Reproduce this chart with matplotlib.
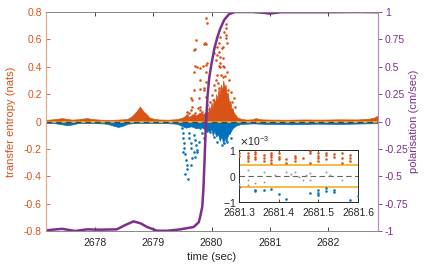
import matplotlib
matplotlib.use('Agg')
import matplotlib.pyplot as plt
from matplotlib.ticker import FuncFormatter, ScalarFormatter

plt.rcParams['font.family'] = ['Liberation Sans', 'DejaVu Sans']
plt.rcParams['font.size'] = 7.5
plt.rcParams['axes.unicode_minus'] = False

#! colours (matlab default order)
ORANGE = '#D95319'
BLUE   = '#0072BD'
PURPLE = '#7E2F8E'
YELLOW = '#EDB120'
GREY   = '#262626'

#! polarisation (right axis)
pol_t = [2677.155, 2677.43, 2677.655, 2677.86, 2678.09, 2678.37, 2678.52, 2678.66, 2678.78,
         2678.89, 2679.06, 2679.24, 2679.465, 2679.695, 2679.78, 2679.80, 2679.84, 2679.86,
         2679.88, 2679.90, 2679.93, 2679.96, 2680.00, 2680.05, 2680.10, 2680.15, 2680.22,
         2680.30, 2680.40, 2680.70, 2680.90, 2681.00, 2681.10, 2681.20, 2682.00, 2682.50, 2682.86]
pol_v = [-0.994, -0.98, -1.0, -0.985, -0.988, -0.985, -0.945, -0.912, -0.93,
         -0.963, -0.997, -0.998, -0.985, -0.963, -0.92, -0.88, -0.78, -0.62,
         -0.35, -0.05, 0.22, 0.40, 0.53, 0.67, 0.77, 0.85, 0.93,
         0.98, 1.0, 1.0, 0.993, 0.985, 0.993, 0.998, 0.998, 1.0, 0.998]

#! dense transfer entropy band (upper / lower envelope)
pos_band = [(2677.15, 0.012), (2677.25, 0.015), (2677.35, 0.02), (2677.43, 0.025), (2677.5, 0.02),
            (2677.6, 0.014), (2677.7, 0.016), (2677.8, 0.022), (2677.86, 0.025), (2677.95, 0.018),
            (2678.1, 0.013), (2678.25, 0.012), (2678.4, 0.014), (2678.55, 0.018), (2678.62, 0.035),
            (2678.68, 0.06), (2678.73, 0.085), (2678.77, 0.11), (2678.8, 0.09), (2678.84, 0.07),
            (2678.88, 0.055), (2678.93, 0.03), (2679.0, 0.02), (2679.1, 0.015), (2679.25, 0.013),
            (2679.4, 0.017), (2679.5, 0.028), (2679.56, 0.045), (2679.62, 0.035), (2679.68, 0.055),
            (2679.74, 0.045), (2679.8, 0.065), (2679.86, 0.055), (2679.9, 0.07),
            (2679.92, 0.08), (2679.94, 0.06), (2679.96, 0.11), (2679.98, 0.08), (2680.0, 0.14),
            (2680.02, 0.1), (2680.04, 0.17), (2680.06, 0.13), (2680.08, 0.2), (2680.1, 0.16),
            (2680.12, 0.24), (2680.14, 0.2), (2680.16, 0.27), (2680.18, 0.22), (2680.2, 0.3),
            (2680.22, 0.25), (2680.24, 0.27), (2680.26, 0.2), (2680.28, 0.21), (2680.3, 0.14),
            (2680.32, 0.15), (2680.34, 0.09), (2680.36, 0.1), (2680.38, 0.06), (2680.41, 0.05),
            (2680.44, 0.03), (2680.47, 0.025),
            (2680.52, 0.018), (2680.6, 0.014), (2680.7, 0.016), (2680.76, 0.025), (2680.84, 0.016),
            (2681.0, 0.014), (2681.3, 0.013), (2681.6, 0.015), (2681.9, 0.014), (2682.2, 0.016),
            (2682.5, 0.015), (2682.7, 0.02), (2682.8, 0.03), (2682.86, 0.045)]
neg_band = [(2677.15, -0.01), (2677.3, -0.012), (2677.42, -0.02), (2677.52, -0.027), (2677.6, -0.022),
            (2677.7, -0.012), (2677.85, -0.01), (2678.0, -0.012), (2678.15, -0.014), (2678.25, -0.022),
            (2678.33, -0.033), (2678.4, -0.04), (2678.48, -0.03), (2678.56, -0.016), (2678.7, -0.01),
            (2679.0, -0.01), (2679.2, -0.011), (2679.4, -0.016), (2679.48, -0.03), (2679.56, -0.045),
            (2679.65, -0.035), (2679.74, -0.05), (2679.82, -0.04), (2679.9, -0.06), (2679.96, -0.07),
            (2680.0, -0.06), (2680.02, -0.1), (2680.05, -0.07), (2680.08, -0.11), (2680.11, -0.09),
            (2680.14, -0.14), (2680.17, -0.11), (2680.2, -0.155), (2680.23, -0.12), (2680.26, -0.13),
            (2680.29, -0.09), (2680.32, -0.08), (2680.36, -0.05), (2680.42, -0.03),
            (2680.5, -0.018), (2680.7, -0.014), (2681.0, -0.018), (2681.4, -0.02), (2681.8, -0.016),
            (2682.2, -0.018), (2682.6, -0.014), (2682.86, -0.012)]

#! scattered transfer entropy points
pos_pts = [(2679.91, 0.754), (2679.93, 0.72), (2680.25, 0.71), (2680.24, 0.68), (2679.74, 0.595),
           (2680.21, 0.656), (2679.87, 0.564), (2679.91, 0.564), (2679.72, 0.527), (2680.25, 0.632),
           (2680.24, 0.608), (2680.15, 0.62), (2680.27, 0.571), (2680.13, 0.571), (2680.10, 0.547),
           (2680.12, 0.51), (2680.18, 0.535), (2680.04, 0.498), (2680.10, 0.486), (2680.15, 0.473),
           (2680.19, 0.462), (2679.93, 0.425), (2679.90, 0.413), (2680.08, 0.449), (2680.15, 0.425),
           (2680.19, 0.405), (2679.72, 0.405), (2679.86, 0.405), (2680.12, 0.405), (2679.88, 0.57),
           (2679.69, 0.52), (2679.80, 0.39), (2679.90, 0.29), (2679.80, 0.235), (2679.87, 0.23),
           (2679.69, 0.23), (2679.67, 0.157), (2679.64, 0.084), (2679.81, 0.084), (2679.58, 0.047),
           (2680.20, 0.547), (2680.22, 0.40), (2680.20, 0.327), (2680.08, 0.303), (2680.13, 0.243),
           (2680.22, 0.254), (2680.28, 0.23), (2680.16, 0.181), (2680.25, 0.145), (2680.31, 0.12),
           (2680.33, 0.084), (2680.36, 0.06), (2679.69, 0.364), (2679.75, 0.40), (2679.81, 0.303),
           (2679.90, 0.364), (2679.87, 0.243), (2679.64, 0.17), (2679.78, 0.17), (2679.90, 0.18),
           (2679.67, 0.108), (2679.81, 0.108), (2679.93, 0.12), (2679.58, 0.072), (2679.72, 0.06),
           (2679.84, 0.072), (2680.15, 0.40), (2680.27, 0.364), (2680.10, 0.34), (2680.30, 0.303),
           (2680.04, 0.267), (2680.33, 0.218), (2680.38, 0.17), (2680.41, 0.108), (2680.01, 0.194),
           (2680.06, 0.23), (2680.17, 0.34), (2680.23, 0.33), (2680.11, 0.28), (2680.02, 0.16),
           (2679.98, 0.14), (2680.35, 0.14), (2679.95, 0.09), (2679.76, 0.10), (2679.62, 0.06)]
neg_pts = [(2679.49, -0.05), (2679.51, -0.086), (2679.51, -0.123), (2679.52, -0.16), (2679.53, -0.196),
           (2679.55, -0.24), (2679.56, -0.281), (2679.57, -0.318), (2679.61, -0.086), (2679.62, -0.123),
           (2679.64, -0.16), (2679.65, -0.196), (2679.69, -0.099), (2679.71, -0.135), (2679.73, -0.172),
           (2679.75, -0.208), (2679.81, -0.05), (2679.84, -0.086), (2679.87, -0.123), (2679.59, -0.42),
           (2679.58, -0.345), (2679.55, -0.38), (2679.64, -0.32), (2679.67, -0.27), (2679.72, -0.26),
           (2679.75, -0.223), (2679.79, -0.15), (2679.51, -0.223), (2679.70, -0.223), (2680.15, -0.099),
           (2680.24, -0.135), (2680.30, -0.086), (2680.33, -0.123), (2680.10, -0.147), (2680.21, -0.16),
           (2680.05, -0.11), (2679.98, -0.08), (2680.27, -0.15), (2680.18, -0.175), (2679.92, -0.07)]

#! inset: zoom on 2681.3 - 2681.6 (values x1e-3)
ins_pos = [(2681.300, 0.87), (2681.300, 0.77), (2681.323, 0.87), (2681.323, 0.77), (2681.323, 0.68),
           (2681.323, 0.59), (2681.341, 0.94), (2681.341, 0.85), (2681.341, 0.74), (2681.341, 0.65),
           (2681.362, 0.81), (2681.362, 0.68), (2681.362, 0.59), (2681.380, 0.90), (2681.380, 0.81),
           (2681.380, 0.72), (2681.380, 0.61), (2681.380, 0.51), (2681.400, 0.87), (2681.400, 0.74),
           (2681.400, 0.64), (2681.419, 0.64), (2681.419, 0.51), (2681.440, 0.77), (2681.440, 0.68),
           (2681.440, 0.59), (2681.461, 0.68), (2681.480, 0.97), (2681.480, 0.87), (2681.480, 0.51),
           (2681.500, 0.87), (2681.500, 0.77), (2681.500, 0.68), (2681.500, 0.59), (2681.520, 0.90),
           (2681.520, 0.81), (2681.520, 0.64), (2681.540, 0.85), (2681.540, 0.74), (2681.560, 0.87),
           (2681.560, 0.68), (2681.560, 0.51), (2681.580, 0.81), (2681.580, 0.68), (2681.580, 0.59)]
ins_neg = [(2681.300, -0.42), (2681.341, -0.52), (2681.341, -0.57), (2681.362, -0.52), (2681.380, -0.51),
           (2681.400, -0.70), (2681.419, -0.87), (2681.480, -0.65), (2681.500, -0.52), (2681.500, -0.65),
           (2681.500, -0.74), (2681.520, -0.48), (2681.520, -0.57), (2681.540, -0.52), (2681.540, -0.61),
           (2681.580, -0.94), (2681.600, -0.78)]
ins_mid = [(2681.323, 0.23), (2681.323, -0.14), (2681.323, -0.35), (2681.341, -0.26), (2681.362, 0.16),
           (2681.362, -0.23), (2681.419, 0.16), (2681.440, 0.16), (2681.461, -0.16), (2681.480, 0.10),
           (2681.480, -0.16), (2681.520, 0.16), (2681.560, -0.16), (2681.300, -0.30), (2681.390, 0.05),
           (2681.430, 0.06), (2681.450, -0.05), (2681.530, 0.05), (2681.470, 0.04)]
ins_thr = 0.42

fig = plt.figure(figsize=(4.25, 2.64), dpi=100)
ax = fig.add_axes([0.1082, 0.125, 0.7812, 0.8295])
ax2 = ax.twinx()

# band + zero line
bt, bv = zip(*pos_band)
ax.fill_between(bt, 0, bv, color=ORANGE, lw=0.5, edgecolor=ORANGE)
bt, bv = zip(*neg_band)
ax.fill_between(bt, bv, 0, color=BLUE, lw=0.5, edgecolor=BLUE)
ax.axhline(0, color=YELLOW, lw=1.3)
ax.axhline(0, color='#444444', lw=1.0, dashes=(4, 3))

px, py = zip(*pos_pts)
ax.scatter(px, py, s=3.5, color=ORANGE, linewidths=0, zorder=3)
px, py = zip(*neg_pts)
ax.scatter(px, py, s=3.5, color=BLUE, linewidths=0, zorder=3)

ax2.plot(pol_t, pol_v, color=PURPLE, lw=1.8, solid_joinstyle='round')

# axes styling
ax.set_xlim(2677.155, 2682.86)
ax.set_ylim(-0.8, 0.8)
ax2.set_ylim(-1, 1)
ax.set_xticks([2678, 2679, 2680, 2681, 2682])
ax.xaxis.set_major_formatter(FuncFormatter(lambda v, p: '%d' % v))
ax.set_yticks([-0.8, -0.6, -0.4, -0.2, 0, 0.2, 0.4, 0.6, 0.8])
ax.yaxis.set_major_formatter(FuncFormatter(lambda v, p: '%g' % round(v, 2)))
ax2.set_yticks([-1, -0.75, -0.5, -0.25, 0, 0.25, 0.5, 0.75, 1])
ax2.yaxis.set_major_formatter(FuncFormatter(lambda v, p: '%g' % v))

ax.tick_params(axis='x', direction='in', length=3, width=0.6, color=GREY, labelcolor=GREY,
               top=True, pad=5)
ax.tick_params(axis='y', direction='in', length=3, width=0.6, color=ORANGE, labelcolor=ORANGE, pad=3)
ax2.tick_params(axis='y', direction='out', length=3, width=0.6, color=PURPLE, labelcolor=PURPLE, pad=2)

for a in (ax, ax2):
  a.spines['top'].set_color('#888888')
  a.spines['bottom'].set_color('#888888')
  a.spines['top'].set_linewidth(0.6)
  a.spines['bottom'].set_linewidth(0.6)
  a.spines['left'].set_color('#E8A888')
  a.spines['right'].set_color('#B88BC0')
  a.spines['left'].set_linewidth(0.8)
  a.spines['right'].set_linewidth(0.8)

ax.set_ylabel('transfer entropy (nats)', color=ORANGE, fontsize=8)
ax.yaxis.set_label_coords(-0.09, 0.5)
ax2.set_ylabel('polarisation (cm/sec)', color=PURPLE, fontsize=8)
ax2.yaxis.set_label_coords(1.093, 0.5)
ax.set_xlabel('time (sec)', color=GREY, fontsize=8)
ax.xaxis.set_label_coords(0.5, -0.095)

#! inset
axi = fig.add_axes([0.5624, 0.2348, 0.28, 0.197])
axi.set_zorder(5)
axi.axhline(ins_thr * 1e-3, color=YELLOW, lw=1.2)
axi.axhline(-ins_thr * 1e-3, color=YELLOW, lw=1.2)
axi.axhline(0, color='#666666', lw=0.8, dashes=(5, 3))
ix, iy = zip(*ins_pos)
axi.scatter(ix, [v * 1e-3 for v in iy], s=3.5, color=ORANGE, linewidths=0, zorder=3)
ix, iy = zip(*ins_neg)
axi.scatter(ix, [v * 1e-3 for v in iy], s=3.5, color=BLUE, linewidths=0, zorder=3)
ix, iy = zip(*ins_mid)
axi.scatter(ix, [v * 1e-3 for v in iy], s=2, color='#999999', linewidths=0, zorder=3)

axi.set_xlim(2681.3, 2681.6)
axi.set_ylim(-1e-3, 1e-3)
axi.set_xticks([2681.3, 2681.4, 2681.5, 2681.6])
axi.xaxis.set_major_formatter(FuncFormatter(lambda v, p: '%.1f' % v))
axi.set_yticks([-1e-3, 0, 1e-3])
fmt = ScalarFormatter(useMathText=True)
fmt.set_powerlimits((-2, 2))
axi.yaxis.set_major_formatter(fmt)
axi.yaxis.get_offset_text().set_fontsize(7.5)
axi.yaxis.get_offset_text().set_color(GREY)
axi.tick_params(direction='in', length=2, width=0.6, color=GREY, labelcolor=GREY,
                top=True, right=True, labelsize=7.5, pad=2)
axi.tick_params(axis='x', pad=4)
for s in axi.spines.values():
  s.set_color(GREY)
  s.set_linewidth(0.7)

fig.savefig('out.png', dpi=100)
